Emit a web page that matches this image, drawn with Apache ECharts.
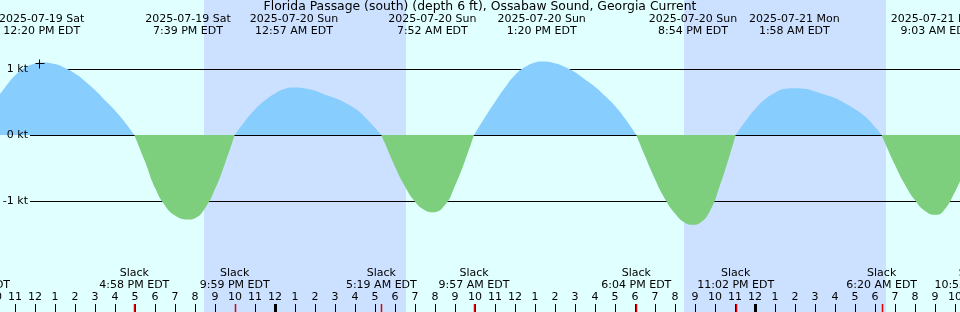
<!DOCTYPE html>
<html><head><meta charset="utf-8">
<script src="https://cdn.jsdelivr.net/npm/echarts@6/dist/echarts.min.js"></script>
<style>html,body{margin:0;padding:0;background:#e0ffff}#c{width:960px;height:312px}</style>
</head><body><div id="c"></div>
<script>
// ---------- data (hours counted from 2025-07-19 00:00 EDT) ----------
const titleText = 'Florida Passage (south) (depth 6 ft), Ossabaw Sound, Georgia Current';

const currentHours = [10.25, 10.5, 11.0, 11.5, 12.0, 12.333, 13.0, 13.5, 14.0, 14.5, 15.0, 15.5, 16.0, 16.5, 16.967,
  17.5, 18.0, 18.5, 19.0, 19.65, 20.0, 20.5, 21.0, 21.5, 21.983,
  22.5, 23.0, 23.5, 24.0, 24.5, 24.95, 25.5, 26.0, 26.5, 27.0, 27.5, 28.0, 28.5, 29.0, 29.317,
  29.5, 30.0, 30.5, 31.0, 31.5, 31.867, 32.5, 33.0, 33.5, 33.95,
  34.5, 35.0, 35.5, 36.0, 36.5, 37.0, 37.333, 38.0, 38.5, 39.0, 39.5, 40.0, 40.5, 41.0, 41.5, 42.067,
  42.5, 43.0, 43.5, 44.0, 44.5, 44.9, 45.25, 45.75, 46.25, 46.75, 47.033,
  47.5, 48.0, 48.5, 49.0, 49.5, 49.967, 50.5, 51.0, 51.5, 52.0, 52.5, 53.0, 53.5, 54.0, 54.333,
  54.5, 55.0, 55.5, 56.0, 56.5, 57.05, 57.5, 58.0, 58.25];
const currentKnots = [0.62, 0.72, 0.90, 1.02, 1.085, 1.10, 1.075, 1.015, 0.93, 0.815, 0.68, 0.525, 0.37, 0.19, 0,
  -0.40, -0.80, -1.07, -1.22, -1.28, -1.26, -1.11, -0.82, -0.43, 0,
  0.21, 0.385, 0.525, 0.63, 0.70, 0.72, 0.705, 0.67, 0.61, 0.56, 0.49, 0.40, 0.27, 0.11, 0,
  -0.13, -0.48, -0.78, -1.01, -1.14, -1.17, -1.06, -0.77, -0.39, 0,
  0.27, 0.50, 0.72, 0.91, 1.03, 1.10, 1.115, 1.088, 1.03, 0.95, 0.84, 0.73, 0.59, 0.44, 0.25, 0,
  -0.32, -0.67, -0.97, -1.19, -1.33, -1.36, -1.33, -1.15, -0.76, -0.29, 0,
  0.20, 0.39, 0.54, 0.64, 0.70, 0.71, 0.70, 0.66, 0.61, 0.56, 0.48, 0.39, 0.28, 0.12, 0,
  -0.12, -0.455, -0.755, -0.99, -1.15, -1.21, -1.12, -0.86, -0.70];

const extremeHours = [12.333, 19.65, 24.95, 31.867, 37.333, 44.9, 49.967, 57.05];
const extremeDates = ['2025-07-19 Sat', '2025-07-19 Sat', '2025-07-20 Sun', '2025-07-20 Sun',
  '2025-07-20 Sun', '2025-07-20 Sun', '2025-07-21 Mon', '2025-07-21 Mon'];
const extremeTimes = ['12:20 PM EDT', '7:39 PM EDT', '12:57 AM EDT', '7:52 AM EDT',
  '1:20 PM EDT', '8:54 PM EDT', '1:58 AM EDT', '9:03 AM EDT'];

const slackHours = [8.983, 16.967, 21.983, 29.317, 33.95, 42.067, 47.033, 54.333, 58.917];
const slackTimes = ['8:59 AM EDT', '4:58 PM EDT', '9:59 PM EDT', '5:19 AM EDT', '9:57 AM EDT',
  '6:04 PM EDT', '11:02 PM EDT', '6:20 AM EDT', '10:55 AM EDT'];

const nightStart = [20.45, 44.45];
const nightEnd = [30.55, 54.55];

const hourTicks = [10, 11, 12, 13, 14, 15, 16, 17, 18, 19, 20, 21, 22, 23, 24, 25, 26, 27, 28, 29,
  30, 31, 32, 33, 34, 35, 36, 37, 38, 39, 40, 41, 42, 43, 44, 45, 46, 47, 48, 49, 50, 51, 52,
  53, 54, 55, 56, 57, 58];
const midnightHours = [24, 48];
const gridKnots = [1, 0, -1];
const markerPoint = [12.175, 1.086];

// ---------- styling / layout ----------
const FONT = 'DejaVu Sans';
const C = { day: '#e0ffff', night: '#cce0ff', flood: '#87cdfd', ebb: '#7dce7d', red: '#e00000' };
const L = { titleY: 7.5, dateY: 19.5, timeY: 31, slackY: 273.5, slackTimeY: 285, hourY: 297.5, tickTop: 304, tickBot: 312, gridX0: 30, labelX: 28 };

const floodData = currentHours.map((h, i) => [h, currentKnots[i] >= 0 ? currentKnots[i] : null]);
const ebbData = currentHours.map((h, i) => [h, currentKnots[i] <= 0 ? currentKnots[i] : null]);

function txt(s, x, y, align, size) {
  return { type: 'text', style: { text: s, x: x, y: y, align: align || 'center', verticalAlign: 'middle',
    fontSize: size || 11, fontFamily: FONT, fill: '#000' } };
}
const px = v => Math.round(v) + 0.5;

const chart = echarts.init(document.getElementById('c'), null, { renderer: 'canvas' });
chart.setOption({
  animation: false,
  backgroundColor: C.day,
  graphic: [{ type: 'text', left: 'center', top: L.titleY - 7, z: 10,
    style: { text: titleText, fontSize: 12.4, fontFamily: FONT, fill: '#000' } }],
  grid: { left: 0, right: 0, top: 0, bottom: 0 },
  xAxis: { type: 'value', min: 10.25, max: 58.25, show: false },
  yAxis: { type: 'value', min: -177 / 66, max: 135 / 66, show: false },
  series: [
    { // night bands
      type: 'custom', z: 1, silent: true,
      data: nightStart.map((s, i) => [s, nightEnd[i]]),
      encode: { x: [0, 1] },
      renderItem: (p, api) => {
        const a = Math.round(api.coord([api.value(0), 0])[0]);
        const b = Math.round(api.coord([api.value(1), 0])[0]);
        return { type: 'rect', shape: { x: a, y: 0, width: b - a, height: api.getHeight() },
          style: { fill: C.night } };
      }
    },
    { // horizontal reference lines
      type: 'custom', z: 2, silent: true,
      data: gridKnots.map(v => [10.25, v]),
      renderItem: (p, api) => {
        const y = px(api.coord([10.25, api.value(1)])[1]);
        return { type: 'line', shape: { x1: L.gridX0, y1: y, x2: api.getWidth(), y2: y }, style: { stroke: '#000', lineWidth: 1 } };
      }
    },
    {
      type: 'line', z: 3, name: 'flood', data: floodData, showSymbol: false, symbol: 'none',
      smooth: 0.5, connectNulls: false, lineStyle: { width: 0, opacity: 0 },
      areaStyle: { color: C.flood, opacity: 1 }
    },
    {
      type: 'line', z: 3, name: 'ebb', data: ebbData, showSymbol: false, symbol: 'none',
      smooth: 0.5, connectNulls: false, lineStyle: { width: 0, opacity: 0 },
      areaStyle: { color: C.ebb, opacity: 1 }
    },
    { // y labels on top of the fills
      type: 'custom', z: 8, silent: true,
      data: gridKnots.map(v => [10.25, v]),
      renderItem: (p, api) => {
        const y = px(api.coord([10.25, api.value(1)])[1]);
        return txt(api.value(1) + ' kt', L.labelX, y, 'right');
      }
    },
    { // marker "+"
      type: 'custom', z: 4, silent: true, data: [markerPoint],
      renderItem: (p, api) => {
        const c = api.coord([api.value(0), api.value(1)]);
        const x = px(c[0]), y = px(c[1]);
        return { type: 'group', children: [
          { type: 'line', shape: { x1: x - 4, y1: y, x2: x + 5, y2: y }, style: { stroke: '#000', lineWidth: 1 } },
          { type: 'line', shape: { x1: x, y1: y - 4, x2: x, y2: y + 5 }, style: { stroke: '#000', lineWidth: 1 } }
        ] };
      }
    },
    { // extreme labels at top
      type: 'custom', z: 5, silent: true,
      data: extremeHours.map((h, i) => [h, 0, i]),
      renderItem: (p, api) => {
        const x = api.coord([api.value(0), 0])[0];
        const i = api.value(2);
        return { type: 'group', children: [txt(extremeDates[i], x, L.dateY), txt(extremeTimes[i], x, L.timeY)] };
      }
    },
    { // hour ticks + labels
      type: 'custom', z: 5, silent: true,
      data: hourTicks.map(h => [h, 0]),
      renderItem: (p, api) => {
        const h = api.value(0);
        const x = api.coord([h, 0])[0];
        const lab = String((h % 12) || 12);
        return { type: 'group', children: [
          { type: 'line', shape: { x1: px(x), y1: L.tickTop, x2: px(x), y2: L.tickBot }, style: { stroke: '#000', lineWidth: 1 } },
          txt(lab, x, L.hourY)
        ] };
      }
    },
    { // midnight thick ticks
      type: 'custom', z: 6, silent: true,
      data: midnightHours.map(h => [h, 0]),
      renderItem: (p, api) => {
        const x = Math.round(api.coord([api.value(0), 0])[0]);
        return { type: 'rect', shape: { x: x - 1, y: L.tickTop, width: 3, height: L.tickBot - L.tickTop }, style: { fill: '#000' } };
      }
    },
    { // slack labels + red ticks
      type: 'custom', z: 7, silent: true,
      data: slackHours.map((h, i) => [h, 0, i]),
      renderItem: (p, api) => {
        const x = api.coord([api.value(0), 0])[0];
        const i = api.value(2);
        return { type: 'group', children: [
          txt('Slack', x, L.slackY), txt(slackTimes[i], x, L.slackTimeY),
          { type: 'line', shape: { x1: px(x), y1: L.tickTop, x2: px(x), y2: L.tickBot }, style: { stroke: C.red, lineWidth: 1.5 } }
        ] };
      }
    }
  ]
});
</script></body></html>
